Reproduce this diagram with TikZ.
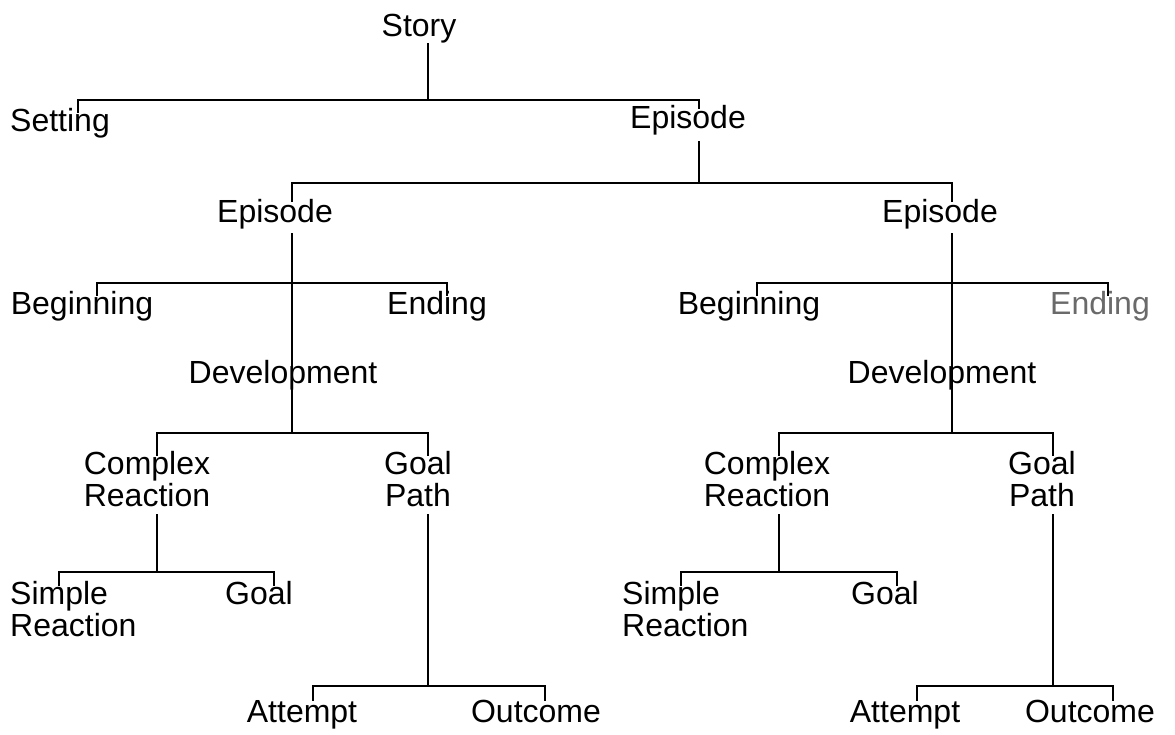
\documentclass[tikz,border=0pt]{standalone}
\usepackage{fontspec}
\setmainfont{Liberation Sans}
\definecolor{inkgray}{HTML}{6A6A6A}
\begin{document}
\begin{tikzpicture}[x=1pt,y=-1pt,
  lbl/.style={anchor=base,inner sep=0pt,font=\fontsize{32}{31}\selectfont},
  two/.style={lbl,align=center},
  conn/.style={line width=1.8pt,line cap=rect}]
\useasboundingbox[fill=white] (0,0) rectangle (1175,734);
% ---------- nodes ----------
\node[lbl] (story) at (419,36) {Story};
\node[lbl] (setting) at (60,131) {Setting};
\node[lbl] (ep0) at (688,128) {Episode};
\node[lbl] (epL) at (275,222) {Episode};
\node[lbl] (epR) at (940,222) {Episode};
\node[lbl] (begL) at (82,314) {Beginning};
\node[lbl] (endL) at (437,314) {Ending};
\node[lbl] (devL) at (283,383) {Development};
\node[lbl] (begR) at (749,314) {Beginning};
\node[lbl,text=inkgray] (endR) at (1100,314) {Ending};
\node[lbl] (devR) at (942,383) {Development};
\node[lbl] (crL) at (147,474) {\begin{tabular}[t]{@{}c@{}}Complex\\Reaction\end{tabular}};
\node[lbl] (gpL) at (418,474) {\begin{tabular}[t]{@{}c@{}}Goal\\Path\end{tabular}};
\node[lbl] (crR) at (767,474) {\begin{tabular}[t]{@{}c@{}}Complex\\Reaction\end{tabular}};
\node[lbl] (gpR) at (1042,474) {\begin{tabular}[t]{@{}c@{}}Goal\\Path\end{tabular}};
\node[lbl,anchor=base west] (srL) at (10,604) {\begin{tabular}[t]{@{}l@{}}Simple\\Reaction\end{tabular}};
\node[lbl] (goalL) at (259,604) {Goal};
\node[lbl,anchor=base west] (srR) at (622,604) {\begin{tabular}[t]{@{}l@{}}Simple\\Reaction\end{tabular}};
\node[lbl] (goalR) at (885,604) {Goal};
\node[lbl] (attL) at (302,722) {Attempt};
\node[lbl] (outL) at (536,722) {Outcome};
\node[lbl] (attR) at (905,722) {Attempt};
\node[lbl] (outR) at (1090,722) {Outcome};
% ---------- connector points ----------
\coordinate (storyB) at (428,44);
\coordinate (b1L) at (78,100);   \coordinate (b1R) at (699,100);
\coordinate (settingT) at (78,112);
\coordinate (ep0T) at (699,108); \coordinate (ep0B) at (699,142);
\coordinate (b2L) at (292,183);  \coordinate (b2R) at (952,183);
\coordinate (epLT) at (292,201); \coordinate (epLB) at (292,234);
\coordinate (epRT) at (952,201); \coordinate (epRB) at (952,234);
\coordinate (b3LL) at (97,283);  \coordinate (b3LR) at (447,283);
\coordinate (begLT) at (97,295); \coordinate (endLT) at (447,295);
\coordinate (b3RL) at (757,283); \coordinate (b3RR) at (1108,283);
\coordinate (begRT) at (757,295); \coordinate (endRT) at (1108,295);
\coordinate (b4LL) at (157,433); \coordinate (b4LR) at (428,433);
\coordinate (b4RL) at (779,433); \coordinate (b4RR) at (1053,433);
\coordinate (crLT) at (157,455); \coordinate (crLB) at (157,515);
\coordinate (gpLT) at (428,455); \coordinate (gpLB) at (428,515);
\coordinate (crRT) at (779,455); \coordinate (crRB) at (779,515);
\coordinate (gpRT) at (1053,455); \coordinate (gpRB) at (1053,515);
\coordinate (b5LL) at (59,572);  \coordinate (b5LR) at (274,572);
\coordinate (b5RL) at (681,572); \coordinate (b5RR) at (897,572);
\coordinate (srLT) at (59,585);  \coordinate (goalLT) at (274,585);
\coordinate (srRT) at (681,585); \coordinate (goalRT) at (897,585);
\coordinate (b6LL) at (313,686); \coordinate (b6LR) at (545,686);
\coordinate (b6RL) at (917,686); \coordinate (b6RR) at (1113,686);
\coordinate (attLT) at (313,700); \coordinate (outLT) at (545,700);
\coordinate (attRT) at (917,700); \coordinate (outRT) at (1113,700);
% ---------- connectors ----------
\draw[conn] (storyB) -- (storyB |- b1L);
\draw[conn] (settingT) -- (b1L) -- (b1R) -- (ep0T);
\draw[conn] (ep0B) -- (ep0B |- b2L);
\draw[conn] (epLT) -- (b2L) -- (b2R) -- (epRT);
% left episode
\draw[conn] (epLB) -- (epLB |- b4LL);
\draw[conn] (begLT) -- (b3LL) -- (b3LR) -- (endLT);
\draw[conn] (crLT) -- (b4LL) -- (b4LR) -- (gpLT);
\draw[conn] (crLB) -- (crLB |- b5LL);
\draw[conn] (srLT) -- (b5LL) -- (b5LR) -- (goalLT);
\draw[conn] (gpLB) -- (gpLB |- b6LL);
\draw[conn] (attLT) -- (b6LL) -- (b6LR) -- (outLT);
% right episode
\draw[conn] (epRB) -- (epRB |- b4RL);
\draw[conn] (begRT) -- (b3RL) -- (b3RR) -- (endRT);
\draw[conn] (crRT) -- (b4RL) -- (b4RR) -- (gpRT);
\draw[conn] (crRB) -- (crRB |- b5RL);
\draw[conn] (srRT) -- (b5RL) -- (b5RR) -- (goalRT);
\draw[conn] (gpRB) -- (gpRB |- b6RL);
\draw[conn] (attRT) -- (b6RL) -- (b6RR) -- (outRT);
\end{tikzpicture}
\end{document}
